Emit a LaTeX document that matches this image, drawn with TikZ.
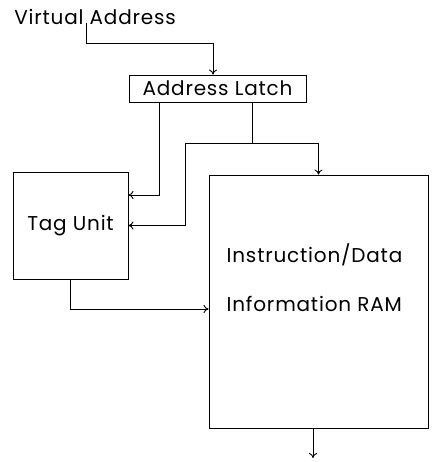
\documentclass[tikz,border=0pt]{standalone}
\usepackage{fontspec}
\setmainfont{Poppins}[LetterSpace=4]
\usetikzlibrary{arrows.meta}

\begin{document}
\begin{tikzpicture}[x=1pt, y=1pt, line width=0.9pt,
    >={To[length=5pt, width=8pt]},
    block/.style={draw, inner sep=0pt},
    lbl/.style={font=\fontsize{20}{24}\selectfont}]
    \useasboundingbox (0, 0) rectangle (440, 462);

    % Input label and the latch
    \node[lbl] (va) at (95, 445) {Virtual Address};
    \coordinate (vtap) at (86, 439);
    \node[block, lbl, minimum width=177, minimum height=27] (latch) at (217.5, 373.5) {Address Latch};

    % Tag unit and the RAM
    \node[block, lbl, minimum width=115, minimum height=107] (tag) at (70.5, 236.5) {Tag Unit};
    \node[block, minimum width=219, minimum height=253] (ram) at (318.5, 160.5) {};
    \node[lbl, align=left] (ramtext) at (314.5, 184.5) {Instruction/Data\\[25pt]Information RAM};

    % Junctions of the address lines
    \coordinate (split) at (252, 319);
    \coordinate (jog) at (185, 319);
    \coordinate (out) at (313, 4);

    % Address into the latch
    \draw[->] (vtap) -- ++(0, -20) -| ([xshift=-4.5pt]latch.north);

    % Latch outputs
    \draw[->] ([xshift=-58.5pt]latch.south) |- ([yshift=30.5pt]tag.east);
    \draw (latch.south -| split) -- (split);
    \draw[->] (split) -- (jog) |- (tag.east);
    \draw[->] (split) -| (ram.north);

    % Tag result into the RAM, and the RAM output
    \draw[->] (tag.south) |- ([yshift=-7.5pt]ram.west);
    \draw[->] ([xshift=-5.5pt]ram.south) -- (out);
\end{tikzpicture}
\end{document}
